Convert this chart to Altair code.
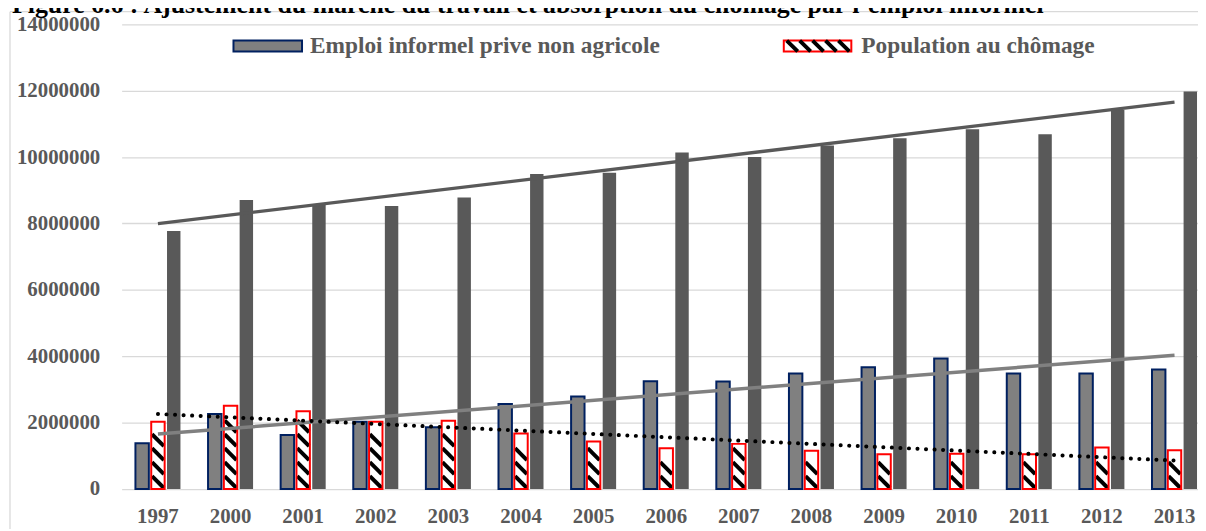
import altair as alt
import pandas as pd

# ---------------- data ----------------
years = ["1997", "2000", "2001", "2002", "2003", "2004", "2005", "2006",
         "2007", "2008", "2009", "2010", "2011", "2012", "2013"]
emploi_informel = [1380000, 2260000, 1630000, 2030000, 1860000, 2560000, 2790000, 3250000,
                   3240000, 3480000, 3670000, 3930000, 3480000, 3480000, 3600000]
chomage = [2030000, 2510000, 2340000, 2030000, 2060000, 1670000, 1430000, 1230000,
           1360000, 1150000, 1050000, 1060000, 1050000, 1250000, 1170000]
emploi_total = [7770000, 8710000, 8570000, 8530000, 8780000, 9490000, 9530000, 10140000,
                10000000, 10350000, 10570000, 10840000, 10690000, 11420000, 11980000]
y_ticks = [0, 2000000, 4000000, 6000000, 8000000, 10000000, 12000000, 14000000]

title_text = "Figure 6.6 : Ajustement du marché du travail et absorption du chômage par l’emploi informel"
legend_labels = ["Emploi informel prive non agricole", "Population au chômage"]
series_keys = ["informel", "chomage", "total"]

rows = []
for i, yr in enumerate(years):
    rows.append({"year": yr, "idx": i, "series": "informel", "value": emploi_informel[i]})
    rows.append({"year": yr, "idx": i, "series": "chomage", "value": chomage[i]})
    rows.append({"year": yr, "idx": i, "series": "total", "value": emploi_total[i]})
df = pd.DataFrame(rows)
dummy = pd.DataFrame({"d": [0]})

# ---------------- styles ----------------
FONT = "Liberation Serif"
TXT = "#595959"
PLOT_W = 1083.6
PLOT_H = 467.8
HATCH = 420000  # hatch period in value units

x_enc = alt.X(
    "year:N",
    scale=alt.Scale(type="band", domain=years, range=[0, 1096.5],
                    paddingInner=0.38, paddingOuter=0.19),
    axis=alt.Axis(title=None, labelAngle=0, domain=False, ticks=False, grid=False,
                  labelFont=FONT, labelFontSize=21, labelFontWeight="bold",
                  labelColor=TXT, labelBaseline="alphabetic", labelPadding=34),
)


def y_enc(field):
    return alt.Y(
        f"{field}:Q",
        scale=alt.Scale(domain=[0, 14000000], nice=False, zero=True),
        axis=alt.Axis(values=y_ticks, format="d", title=None, domain=False, ticks=False,
                      labelFont=FONT, labelFontSize=21, labelFontWeight="bold",
                      labelColor=TXT, labelPadding=22,
                      gridColor="#d9d9d9", gridWidth=1.3),
    )


xoff = alt.XOffset("series:N",
                   scale=alt.Scale(domain=series_keys, paddingInner=0.15, paddingOuter=0))

base = alt.Chart(df)


def series(key):
    return base.transform_filter(f"datum.series == '{key}'")


bars_total = series("total").mark_bar(fill="#595959").encode(
    x=x_enc, y=y_enc("value"), xOffset=xoff)
bars_inf = series("informel").mark_bar(fill="#808080", stroke="#002060", strokeWidth=2).encode(
    x=x_enc, y=y_enc("value"), xOffset=xoff)
bars_ch_fill = series("chomage").mark_bar(fill="white").encode(
    x=x_enc, y=y_enc("value"), xOffset=xoff)
hatch = (
    series("chomage")
    .transform_calculate(k=f"sequence(0, floor(datum.value / {HATCH}))")
    .transform_flatten(["k"])
    .transform_calculate(yc=f"(datum.k + 0.5) * {HATCH}")
    .mark_point(shape="M-1,-1L1,1", size=144, filled=False, stroke="black",
                strokeWidth=4, strokeCap="butt", opacity=1)
    .encode(x=x_enc, y=y_enc("yc"), xOffset=xoff)
)
bars_ch_border = series("chomage").mark_bar(fill="white", fillOpacity=0, stroke="#ff0000",
                                            strokeWidth=2).encode(
    x=x_enc, y=y_enc("value"), xOffset=xoff)

year_expr = "[" + ",".join(f"'{y}'" for y in years) + "][round(datum.idx)]"


def trend(key, **style):
    return (
        series(key)
        .transform_regression("idx", "value")
        .transform_calculate(year=year_expr)
        .mark_line(**style)
        .encode(x=x_enc, y=y_enc("value"))
    )


trend_total = trend("total", color="#595959", strokeWidth=3.3)
trend_inf = trend("informel", color="#808080", strokeWidth=3.5)
trend_ch = trend("chomage", color="black", strokeWidth=4, strokeDash=[0.1, 8.5], strokeCap="round")

# ---------------- legend, title, chart border ----------------
dchart = alt.Chart(dummy)
leg_sw1 = dchart.mark_rect(fill="#808080", stroke="#002060", strokeWidth=2).encode(
    x=alt.value(112.6), x2=alt.value(181.6), y=alt.value(16.3), y2=alt.value(27.3))
leg_sw2 = dchart.mark_rect(fill="white", stroke="#ff0000", strokeWidth=2).encode(
    x=alt.value(666.6), x2=alt.value(734.6), y=alt.value(16.3), y2=alt.value(27.3))
leg_path = ("M-0.9118,-0.1618L-0.5882,0.1618M-0.5294,-0.1618L-0.2059,0.1618"
            "M-0.1471,-0.1618L0.1765,0.1618M0.2353,-0.1618L0.5588,0.1618"
            "M0.6176,-0.1618L0.9412,0.1618")
leg_hatch = dchart.mark_point(shape=leg_path, size=4624, filled=False, stroke="black",
                              strokeWidth=4, strokeCap="butt", opacity=1).encode(
    x=alt.value(700.6), y=alt.value(21.8))
leg_t1 = dchart.mark_text(text=legend_labels[0], font=FONT, fontSize=23.5, fontWeight="bold",
                          color=TXT, align="left", baseline="middle").encode(
    x=alt.value(189.6), y=alt.value(21.8))
leg_t2 = dchart.mark_text(text=legend_labels[1], font=FONT, fontSize=23.5, fontWeight="bold",
                          color=TXT, align="left", baseline="middle").encode(
    x=alt.value(744.6), y=alt.value(21.8))
border_v = dchart.mark_rule(color="#d9d9d9", strokeWidth=1.3).encode(
    x=alt.value(-112.4), y=alt.value(-12.7), y2=alt.value(520))
border_h = dchart.mark_rule(color="#d9d9d9", strokeWidth=1.3).encode(
    x=alt.value(-112.4), x2=alt.value(1200), y=alt.value(-12.7))
title = dchart.mark_text(text=title_text, font=FONT, fontSize=26, fontWeight="bold",
                         color="black", align="left", baseline="alphabetic").encode(
    x=alt.value(-110.4), y=alt.value(-11.5))

chart = alt.layer(
    border_v, border_h,
    bars_total, bars_inf, bars_ch_fill, hatch, bars_ch_border,
    trend_inf, trend_total, trend_ch,
    leg_sw1, leg_sw2, leg_hatch, leg_t1, leg_t2, title,
).properties(
    width=PLOT_W, height=PLOT_H,
    autosize=alt.AutoSizeParams(type="none"),
    padding={"left": 114.4, "top": 14.7, "right": 0, "bottom": 38},
    background="white",
).configure_view(strokeWidth=0)

chart.save("out.html", embed_options={"renderer": "svg", "actions": False})
